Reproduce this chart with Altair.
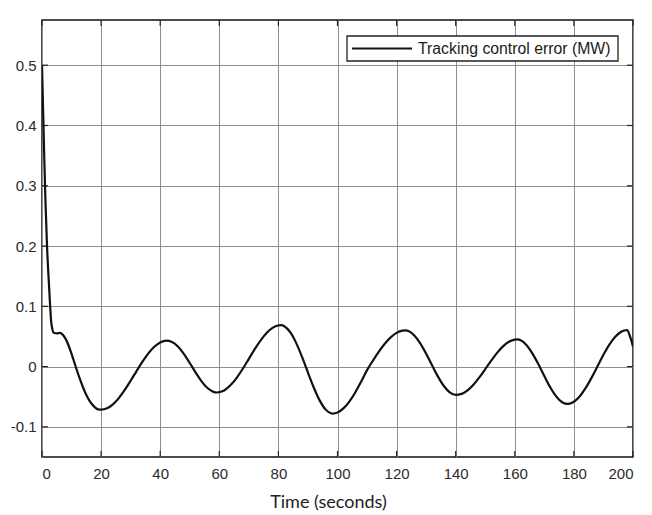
import altair as alt
import pandas as pd

# Time (s) and tracking control error (MW)
time_s = [0, 0.4, 0.8, 1.2, 1.7, 2.2, 2.7, 3.1, 3.5, 4, 5, 6, 7, 8, 9, 10, 11, 12, 13, 14,
          15, 16, 17, 18, 19, 20, 22, 24, 26, 28, 30, 32, 34, 36, 38, 40, 42, 44, 46,
          48, 50, 52, 54, 56, 58, 59.2, 61, 62, 64, 66, 68, 70, 72, 74, 76, 78, 80, 81, 82,
          84, 86, 88, 90, 92, 94, 96, 98, 98.4, 100, 102, 104, 106, 108, 110, 112, 114, 116,
          118, 120, 122, 123, 124, 126, 128, 130, 132, 134, 136, 138, 140, 142, 144, 146,
          148, 150, 152, 154, 156, 158, 160, 161, 162, 164, 166, 168, 170, 172, 174, 176,
          178, 180, 182, 184, 186, 188, 190, 192, 194, 196, 198, 199, 200]
error_mw = [0.5, 0.42, 0.34, 0.27, 0.2, 0.15, 0.105, 0.075, 0.062, 0.056, 0.055, 0.056, 0.053,
            0.046, 0.035, 0.021, 0.006, -0.009, -0.023, -0.036, -0.047, -0.056, -0.063, -0.068,
            -0.071, -0.0715,
            -0.0693, -0.0626, -0.0523, -0.0388, -0.0235, -0.0074, 0.0081, 0.0219, 0.0328,
            0.0400, 0.0430,
            0.0409, 0.0332, 0.0210, 0.0060, -0.0099, -0.0244, -0.0356, -0.0419, -0.043,
            -0.0411, -0.0384, -0.0299, -0.0178, -0.0032, 0.0129, 0.0289, 0.0435, 0.0556,
            0.0641, 0.0683, 0.0687,
            0.0670, 0.0570, 0.0393, 0.0160, -0.0099, -0.0351, -0.0565, -0.0714, -0.0778, -0.078,
            -0.0763, -0.0694, -0.058, -0.0429, -0.025, -0.0059, 0.010, 0.0249, 0.0379, 0.0484,
            0.0559, 0.0596, 0.060,
            0.0589, 0.0517, 0.0386, 0.0214, 0.0021, -0.0166, -0.0322, -0.0428, -0.0470,
            -0.0453, -0.0394, -0.0300, -0.0179, -0.0042, 0.0098, 0.0228, 0.0335, 0.0411,
            0.0447, 0.045,
            0.0435, 0.0355, 0.0216, 0.0037, -0.0158, -0.0344, -0.0495, -0.0591, -0.062,
            -0.0584, -0.0493, -0.0354, -0.0183, 0.0007, 0.0195, 0.0363, 0.0495, 0.0578,
            0.0605, 0.05, 0.033]

series_name = ["Tracking control error (MW)"]
x_ticks = [0, 20, 40, 60, 80, 100, 120, 140, 160, 180, 200]
y_ticks = [-0.1, 0, 0.1, 0.2, 0.3, 0.4, 0.5]
x_domain = [0, 200]
y_domain = [-0.15, 0.575]

W, H = 591, 437

df = pd.DataFrame({"t": time_s, "e": error_mw})
xt = pd.DataFrame({"v": x_ticks})
yt = pd.DataFrame({"v": y_ticks})
leg = pd.DataFrame({"name": series_name})

xscale = alt.Scale(domain=x_domain, nice=False, zero=False)
yscale = alt.Scale(domain=y_domain, nice=False, zero=False)

ylabel = ("datum.value == 0 ? '0' : (datum.value < 0 ? '-' + format(-datum.value, '.1f')"
          " : format(datum.value, '.1f'))")

line = alt.Chart(df).mark_line(strokeWidth=2.2, interpolate="monotone", color="#111111",
                               clip=True).encode(
    x=alt.X("t:Q", scale=xscale,
            axis=alt.Axis(values=x_ticks, title="Time (seconds)", grid=True, domain=False,
                          tickSize=0, labelPadding=9, labelFont="Liberation Sans",
                          labelFontSize=15, labelColor="#2b2b2b", titleFont="Lato",
                          titleFontSize=18, titleFontWeight="normal", titleColor="#222222",
                          titlePadding=12, titleX=286, gridColor="#8f8f8f", gridWidth=1,
                          format="d")),
    y=alt.Y("e:Q", scale=yscale,
            axis=alt.Axis(values=y_ticks, title=None, grid=True, domain=False, tickSize=0,
                          labelPadding=6, labelFont="Liberation Sans", labelFontSize=15,
                          labelColor="#2b2b2b", gridColor="#8f8f8f", gridWidth=1,
                          labelExpr=ylabel)),
)

tick_style = dict(color="#222222", strokeWidth=1.2)
xb = alt.Chart(xt).mark_rule(**tick_style).encode(
    x=alt.X("v:Q", scale=xscale), y=alt.value(H), y2=alt.value(H - 6))
xtop = alt.Chart(xt).mark_rule(**tick_style).encode(
    x=alt.X("v:Q", scale=xscale), y=alt.value(0), y2=alt.value(6))
yl = alt.Chart(yt).mark_rule(**tick_style).encode(
    y=alt.Y("v:Q", scale=yscale), x=alt.value(0), x2=alt.value(6))
yr = alt.Chart(yt).mark_rule(**tick_style).encode(
    y=alt.Y("v:Q", scale=yscale), x=alt.value(W), x2=alt.value(W - 6))

# legend box drawn as annotation marks
leg_box = alt.Chart(leg).mark_rect(fill="white", stroke="#222222", strokeWidth=1.3).encode(
    x=alt.value(305), x2=alt.value(576), y=alt.value(16), y2=alt.value(41))
leg_line = alt.Chart(leg).mark_rule(color="#111111", strokeWidth=2).encode(
    x=alt.value(310), x2=alt.value(370), y=alt.value(28.5))
leg_text = alt.Chart(leg).mark_text(align="left", baseline="middle", font="Liberation Sans",
                                    fontSize=15.8, color="#1a1a1a").encode(
    x=alt.value(376), y=alt.value(29), text="name:N")

chart = alt.layer(xb, xtop, yl, yr, line, leg_box, leg_line, leg_text).properties(
    width=W, height=H,
    autosize=alt.AutoSizeParams(type="none"),
    padding={"left": 42, "top": 20, "right": 652 - 42 - W, "bottom": 515 - 20 - H},
    background="white",
).configure_view(stroke="#111111", strokeWidth=1.5)

chart.save("out.html", embed_options={"renderer": "svg", "actions": False})
